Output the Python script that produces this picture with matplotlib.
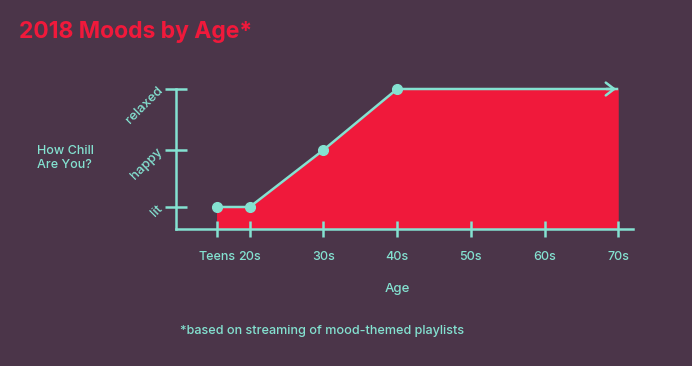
import matplotlib
matplotlib.use("Agg")
import matplotlib.pyplot as plt

# Data
age_labels = ["Teens", "20s", "30s", "40s", "50s", "60s", "70s"]
age_positions = [15.5, 20, 30, 40, 50, 60, 70]
mood_labels = ["lit", "happy", "relaxed"]
mood_levels = [1.0, 2.0, 3.07]
point_ages = [15.5, 20, 30, 40]
point_moods = [1.0, 1.0, 2.0, 3.07]
line_end_age = 70

BG = "#4b3549"
RED = "#f0193b"
CYAN = "#84e2d1"

plt.rcParams['font.family'] = ['Inter', 'DejaVu Sans']

fig = plt.figure(figsize=(6.92, 3.66), dpi=100, facecolor=BG)
ax = fig.add_axes([176/692, (366-229)/366, 457/692, 140/366])
ax.set_facecolor(BG)

xs = point_ages + [line_end_age]
ys = point_moods + [point_moods[-1]]
ymin = 0.614
ax.fill_between(xs, ys, ymin, color=RED, linewidth=0, zorder=1)
ax.plot(xs, ys, color=CYAN, lw=1.8, zorder=2, solid_capstyle='butt', clip_on=False)
ax.plot(point_ages, point_moods, 'o', color=CYAN, ms=7, zorder=3, clip_on=False)
# arrow head at end
ax.annotate("", xy=(line_end_age + 0.1, ys[-1]), xytext=(line_end_age - 2, ys[-1]),
            arrowprops=dict(arrowstyle="->,head_length=0.55,head_width=0.42", color=CYAN, lw=1.8,
                            mutation_scale=11), zorder=4, annotation_clip=False)

ax.set_xlim(10, 72)
ax.set_ylim(ymin, mood_levels[-1])
for s in ["top", "right"]:
    ax.spines[s].set_visible(False)
for s in ["left", "bottom"]:
    ax.spines[s].set_color(CYAN)
    ax.spines[s].set_linewidth(1.8)

ax.set_xticks(age_positions)
ax.set_xticklabels(age_labels)
ax.set_yticks(mood_levels)
ax.set_yticklabels(mood_labels, rotation=45, ha='right', va='center', rotation_mode='anchor')
ax.tick_params(axis='x', direction='inout', length=12, width=1.8, color=CYAN,
               labelcolor=CYAN, labelsize=9, pad=10)
ax.tick_params(axis='y', direction='inout', length=16, width=1.8, color=CYAN,
               labelcolor=CYAN, labelsize=9.5, pad=3)
for t in ax.get_xticklabels() + ax.get_yticklabels():
    t.set_fontweight('medium')

fig.text(19/692, 1 - 32/366, "2018 Moods by Age*", color=RED, fontsize=16.5,
         fontweight='bold', ha='left', va='center')
fig.text(37/692, 1 - 158/366, "How Chill\nAre You?", color=CYAN, fontsize=9,
         fontweight='medium', ha='left', va='center', linespacing=1.3)
fig.text(397/692, 1 - 289/366, "Age", color=CYAN, fontsize=9.5, fontweight='medium',
         ha='center', va='center')
fig.text(180/692, 1 - 331/366, "*based on streaming of mood-themed playlists",
         color=CYAN, fontsize=9.1, fontweight='medium', ha='left', va='center')

fig.savefig("out.png", dpi=100, facecolor=BG)
